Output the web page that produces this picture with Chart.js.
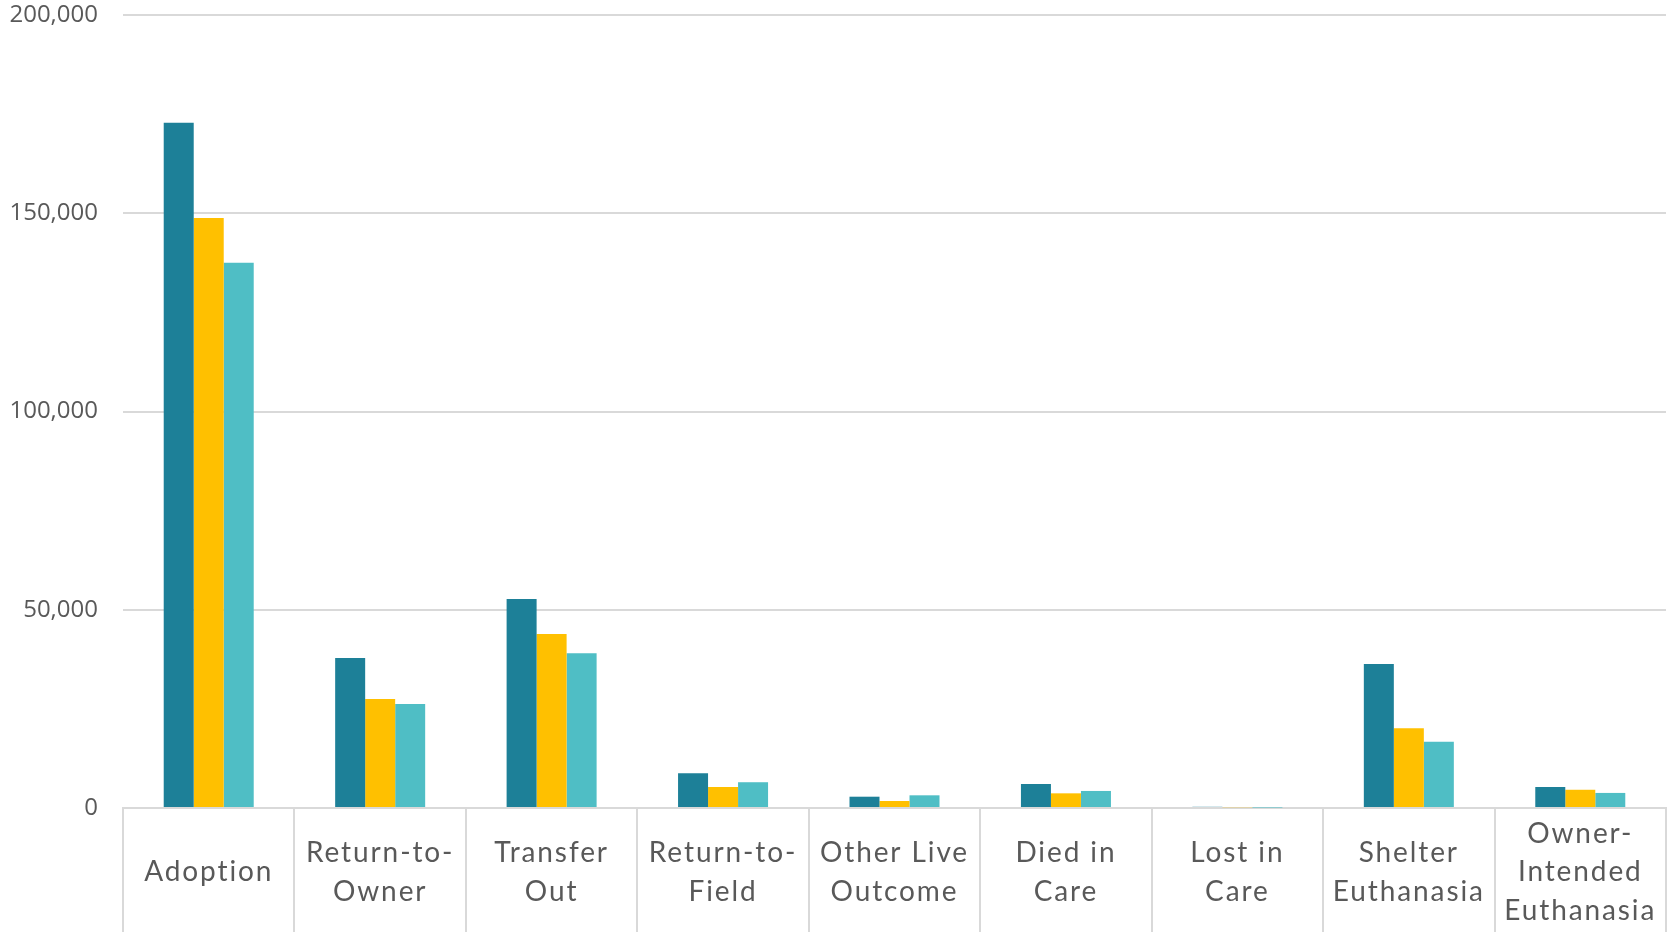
<!DOCTYPE html>
<html>
<head>
<meta charset="utf-8">
<script src="https://cdn.jsdelivr.net/npm/chart.js@4/dist/chart.umd.min.js"></script>
<style>
  html,body{margin:0;padding:0;background:#fff;}
  #wrap{width:1674px;height:932px;position:relative;}
</style>
</head>
<body>
<div id="wrap"><canvas id="outcomes" width="1674" height="932"></canvas></div>
<script>
const categories = [
  "Adoption", ["Return-to-","Owner"], ["Transfer","Out"], ["Return-to-","Field"],
  ["Other Live","Outcome"], ["Died in","Care"], ["Lost in","Care"],
  ["Shelter","Euthanasia"], ["Owner-","Intended","Euthanasia"]
];
const series1 = [172800, 37800, 52700, 8750, 2850, 6050, 300, 36300, 5300];
const series2 = [148800, 27500, 43900, 5300, 1770, 3700, 200, 20100, 4600];
const series3 = [137500, 26200, 39000, 6500, 3200, 4300, 120, 16700, 3800];
const yTicks = [0, 50000, 100000, 150000, 200000];

const fmt = n => n.toLocaleString("en-US");
const gridGray = "#d9d9d9";
const textGray = "#595959";

// category labels in the original are letter-spaced, chart.js has no option for it
const spacedLabels = {
  id:"spacedLabels",
  afterLayout(chart){
    const s = chart.scales.x;
    if(s._spaced) return;
    const orig = s.drawLabels.bind(s);
    s.drawLabels = function(area){
      const c = this.ctx;
      c.save();
      c.letterSpacing = "1.9px";
      orig(area);
      c.restore();
    };
    s._spaced = true;
  }
};

const ctx = document.getElementById("outcomes").getContext("2d");
new Chart(ctx, {
  type: "bar",
  data: {
    labels: categories,
    datasets: [
      {label:"Series 1", data:series1, backgroundColor:"#1d8098"},
      {label:"Series 2", data:series2, backgroundColor:"#ffc000"},
      {label:"Series 3", data:series3, backgroundColor:"#4fbec5"}
    ]
  },
  plugins:[spacedLabels],
  options: {
    responsive:false, animation:false,
    layout:{padding:{top:0, right:8, left:0, bottom:0}},
    datasets:{bar:{categoryPercentage:0.525, barPercentage:1.0}},
    plugins:{legend:{display:false}, tooltip:{enabled:false}},
    scales:{
      x:{
        offset:true,
        grid:{offset:true, drawOnChartArea:false, color:gridGray, lineWidth:2, tickLength:124},
        border:{color:gridGray, width:2},
        ticks:{
          color:textGray, maxRotation:0, autoSkip:false, crossAlign:"center",
          padding:-98,
          font:{family:"Lato", size:28, lineHeight:1.37}
        },
        afterFit: s => { s.height = 124; }
      },
      y:{
        min:0, max:200000,
        afterBuildTicks: s => { s.ticks = yTicks.map(v => ({value:v})); },
        grid:{color:gridGray, lineWidth:2, drawTicks:false},
        border:{display:false},
        ticks:{
          color:textGray, padding:25,
          font:{family:"Open Sans", size:24},
          callback: v => fmt(v)
        },
        afterFit: s => { s.width = 123; s.paddingTop = 15; }
      }
    }
  }
});
</script>
</body>
</html>
